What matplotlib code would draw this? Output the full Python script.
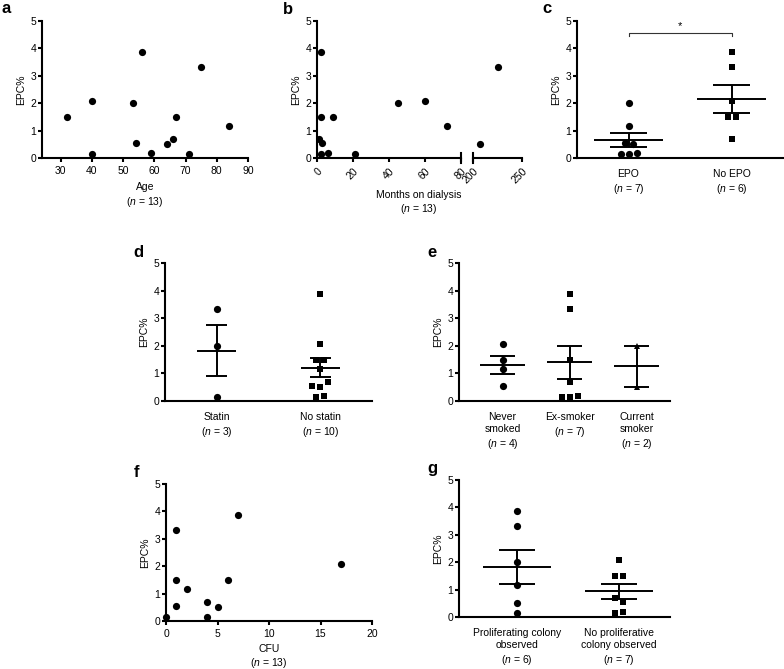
import matplotlib
matplotlib.use("Agg")
import matplotlib.pyplot as plt
import numpy as np

plt.rcParams['font.family'] = 'Liberation Sans'
plt.rcParams['mathtext.fontset'] = 'custom'
plt.rcParams['mathtext.rm'] = 'Liberation Sans'
plt.rcParams['mathtext.it'] = 'Liberation Sans:italic'
plt.rcParams['font.size'] = 7.5

# a - age
age = [32, 40, 40, 53, 54, 56, 59, 64, 66, 67, 71, 75, 84]
epc_age = [1.48, 2.07, 0.15, 2.0, 0.55, 3.88, 0.17, 0.52, 0.68, 1.48, 0.15, 3.33, 1.15]

# b - months on dialysis
months = [1, 2, 2, 2, 3, 6, 9, 21, 45, 60, 72, 207, 225]
epc_months = [0.68, 3.88, 1.48, 0.15, 0.55, 0.17, 1.48, 0.15, 2.0, 2.07, 1.15, 0.52, 3.33]

# c - EPO
epo = [2.0, 1.15, 0.55, 0.52, 0.15, 0.15, 0.17]
no_epo = [3.88, 3.33, 2.07, 1.48, 1.48, 0.68]

# d - statin
statin = [3.33, 2.0, 0.15]
no_statin = [3.88, 2.07, 1.48, 1.48, 1.15, 0.55, 0.52, 0.68, 0.15, 0.17]

# e - smoking
never = [2.07, 1.48, 1.15, 0.55]
ex_smoker = [3.88, 3.33, 1.48, 0.68, 0.15, 0.15, 0.17]
current = [2.0, 0.52]

# f - CFU
cfu = [0, 1, 1, 1, 2, 4, 4, 5, 6, 7, 17]
epc_cfu = [0.15, 3.33, 1.48, 0.55, 1.15, 0.68, 0.15, 0.52, 1.48, 3.88, 2.07]

# g - colonies
prolif = [3.88, 3.33, 2.0, 1.15, 0.52, 0.15]
no_prolif = [2.07, 1.48, 1.48, 0.68, 0.55, 0.15, 0.17]

W, H = 784, 669
fig = plt.figure(figsize=(W / 100, H / 100), dpi=100)


def px_axes(l, t, r, b):
    return fig.add_axes([l / W, 1 - b / H, (r - l) / W, (b - t) / H])


def style(ax, ylabel=True):
    for s in ['top', 'right']:
        ax.spines[s].set_visible(False)
    for s in ['left', 'bottom']:
        ax.spines[s].set_linewidth(1.5)
    ax.set_ylim(0, 5)
    ax.set_yticks(range(6))
    ax.tick_params(width=1.5, length=3, labelsize=7.5, pad=1)
    ax.tick_params(axis='x', pad=3)
    if ylabel:
        ax.set_ylabel('EPC%', fontsize=7.5, labelpad=3)


def spread(vals, step, gap=0.2):
    # horizontal offsets for points with close values (column scatter)
    vals = np.asarray(vals, float)
    srt = np.sort(vals)
    edges = [srt[0]]
    for k in range(1, len(srt)):
        if srt[k] - srt[k - 1] > gap:
            edges.append(srt[k])
    cid = np.searchsorted(edges, vals, side='right') - 1
    off = np.zeros(len(vals))
    for c in np.unique(cid):
        idx = np.where(cid == c)[0]
        m = len(idx)
        off[idx] = (np.arange(m) - (m - 1) / 2) * step
    return off


def column_plot(ax, groups, markers, labels, xlim, mean_w, cap_w):
    ax.set_xlim(*xlim)
    bbox = ax.get_position()
    step = 8 * (xlim[1] - xlim[0]) / (bbox.width * W)
    for i, (vals, m) in enumerate(zip(groups, markers)):
        ms = 5.2 if m == 'o' else 4.6
        ax.plot(i + spread(vals, step), vals, m, color='black', ms=ms,
                mew=0, clip_on=False, zorder=3)
        mean = np.mean(vals)
        sem = np.std(vals, ddof=1) / np.sqrt(len(vals))
        ax.hlines(mean, i - mean_w, i + mean_w, color='black', lw=1.4)
        ax.hlines([mean - sem, mean + sem], i - cap_w, i + cap_w, color='black', lw=1.4)
        ax.vlines(i, mean - sem, mean + sem, color='black', lw=1.4)
    ax.set_xticks(range(len(groups)))
    ax.set_xticklabels(labels, linespacing=1.25)
    ax.tick_params(axis='x', length=0, pad=8)


def letter(x, y, s):
    fig.text(x / W, 1 - y / H, s, fontsize=12, fontweight='bold', va='baseline')


# ---- a
ax = px_axes(42, 21, 248, 158)
style(ax)
ax.plot(age, epc_age, 'o', color='black', ms=5.2, mew=0, clip_on=False)
ax.set_xlim(24, 90)
ax.set_xticks(range(30, 91, 10))
ax.set_xlabel('Age\n($\\it{n}$ = 13)', linespacing=1.3, labelpad=4)
letter(1, 13, 'a')

# ---- b (broken x axis)
ax1 = px_axes(317, 21, 461, 158)
ax2 = px_axes(473, 21, 522, 158)
style(ax1)
style(ax2, ylabel=False)
ax2.spines['left'].set_visible(False)
ax2.tick_params(axis='y', left=False, labelleft=False)
for a_, lo, hi in [(ax1, 0, 80), (ax2, 200, 250)]:
    a_.plot(months, epc_months, 'o', color='black', ms=5.2, mew=0, clip_on=True)
    a_.set_xlim(lo, hi)
ax1.set_xticks(range(0, 81, 20))
ax2.set_xticks([200, 250])
for a_ in (ax1, ax2):
    plt.setp(a_.get_xticklabels(), rotation=45, ha='right', rotation_mode='anchor')
ax1.plot([1, 1], [-0.035, 0.035], transform=ax1.transAxes, color='black', lw=1.5, clip_on=False)
ax2.plot([0, 0], [-0.035, 0.035], transform=ax2.transAxes, color='black', lw=1.5, clip_on=False)
fig.text(419 / W, 1 - 195 / H, 'Months on dialysis', ha='center', va='center')
fig.text(419 / W, 1 - 209 / H, '($\\it{n}$ = 13)', ha='center', va='center')
letter(283, 14, 'b')

# ---- c
ax = px_axes(577, 21, 783, 158)
style(ax)
column_plot(ax, [epo, no_epo], ['o', 's'],
            ['EPO\n($\\it{n}$ = 7)', 'No EPO\n($\\it{n}$ = 6)'],
            (-0.5, 1.5), 0.335, 0.175)
ax.plot([0, 0, 1, 1], [4.45, 4.55, 4.55, 4.45], color='#333333', lw=0.8, clip_on=False)
ax.text(0.5, 4.62, '*', ha='center', va='bottom', fontsize=8)
letter(542, 13, 'c')

# ---- d
ax = px_axes(165, 263, 372, 401)
style(ax)
column_plot(ax, [statin, no_statin], ['o', 's'],
            ['Statin\n($\\it{n}$ = 3)', 'No statin\n($\\it{n}$ = 10)'],
            (-0.5, 1.5), 0.19, 0.1)
letter(133, 257, 'd')

# ---- e
ax = px_axes(459, 263, 670, 401)
style(ax)
column_plot(ax, [never, ex_smoker, current], ['o', 's', '^'],
            ['Never\nsmoked\n($\\it{n}$ = 4)', 'Ex-smoker\n($\\it{n}$ = 7)',
             'Current\nsmoker\n($\\it{n}$ = 2)'],
            (-0.65, 2.5), 0.33, 0.18)
letter(427, 257, 'e')

# ---- f
ax = px_axes(166, 484, 372, 621)
style(ax)
ax.plot(cfu, epc_cfu, 'o', color='black', ms=5.2, mew=0, clip_on=False)
ax.set_xlim(0, 20)
ax.set_xticks(range(0, 21, 5))
ax.set_xlabel('CFU\n($\\it{n}$ = 13)', linespacing=1.25, labelpad=3)
letter(134, 477, 'f')

# ---- g
ax = px_axes(459, 480, 670, 617)
style(ax)
column_plot(ax, [prolif, no_prolif], ['o', 's'],
            ['Proliferating colony\nobserved\n($\\it{n}$ = 6)',
             'No proliferative\ncolony observed\n($\\it{n}$ = 7)'],
            (-0.57, 1.5), 0.335, 0.175)
letter(427, 473, 'g')

fig.savefig('out.png', dpi=100)
